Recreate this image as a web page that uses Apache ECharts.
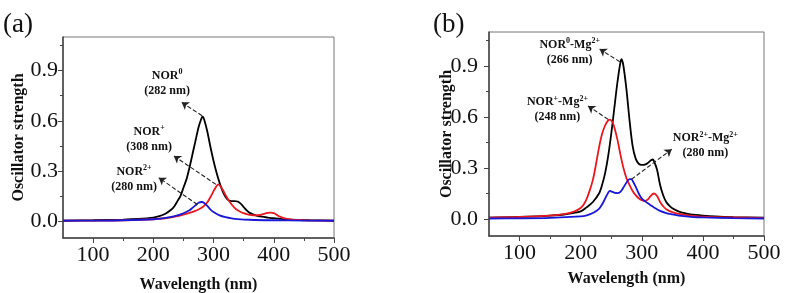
<!DOCTYPE html>
<html>
<head>
<meta charset="utf-8">
<script src="https://cdn.jsdelivr.net/npm/echarts@6/dist/echarts.min.js"></script>
<style>
  html, body { margin: 0; padding: 0; background: #fff; }
  #chart { width: 786px; height: 293px; }
</style>
</head>
<body>
<div id="chart"></div>
<script>
// panel (a) spectra, [wavelength nm, oscillator strength]
var aNor0 = [[50,0.004],[100,0.006],[150,0.010],[175,0.014],[200,0.022],[210,0.03],[220,0.045],[230,0.07],[235,0.09],[240,0.12],[245,0.15],[250,0.2],[255,0.25],[260,0.32],[265,0.4],[270,0.48],[275,0.56],[280,0.615],[282,0.625],[285,0.60],[290,0.53],[295,0.44],[300,0.36],[305,0.29],[310,0.23],[315,0.18],[320,0.145],[325,0.125],[330,0.12],[335,0.12],[340,0.118],[345,0.105],[350,0.085],[355,0.065],[360,0.05],[370,0.035],[380,0.027],[390,0.022],[400,0.018],[410,0.014],[420,0.011],[440,0.008],[460,0.006],[500,0.004]];
var aNor1 = [[50,0.003],[100,0.004],[150,0.006],[200,0.012],[220,0.018],[240,0.03],[250,0.04],[260,0.05],[270,0.062],[275,0.07],[280,0.08],[285,0.095],[290,0.115],[295,0.145],[300,0.18],[305,0.21],[308,0.22],[310,0.215],[315,0.19],[320,0.155],[325,0.125],[330,0.1],[335,0.08],[340,0.065],[345,0.055],[350,0.048],[355,0.042],[360,0.038],[370,0.035],[380,0.04],[390,0.05],[395,0.052],[400,0.048],[405,0.038],[410,0.028],[420,0.016],[430,0.01],[440,0.008],[460,0.005],[500,0.003]];
var aNor2 = [[50,0.003],[100,0.004],[150,0.006],[200,0.012],[220,0.02],[230,0.026],[240,0.035],[250,0.048],[260,0.066],[265,0.08],[270,0.095],[275,0.11],[280,0.115],[285,0.108],[290,0.09],[295,0.07],[300,0.055],[310,0.035],[320,0.024],[330,0.017],[340,0.013],[360,0.009],[400,0.006],[450,0.004],[500,0.003]];

// panel (b) spectra, Mg2+ complexes
var bNor0 = [[50,0.008],[100,0.012],[150,0.02],[175,0.028],[200,0.045],[210,0.07],[220,0.1],[230,0.15],[235,0.2],[240,0.27],[245,0.37],[250,0.5],[255,0.65],[260,0.8],[265,0.92],[267,0.94],[270,0.9],[275,0.76],[280,0.58],[285,0.43],[290,0.355],[295,0.325],[300,0.318],[305,0.32],[310,0.33],[315,0.345],[318,0.35],[320,0.34],[325,0.29],[330,0.2],[335,0.14],[340,0.1],[345,0.078],[350,0.063],[360,0.045],[370,0.034],[380,0.027],[400,0.02],[420,0.015],[450,0.011],[500,0.008]];
var bNor1 = [[50,0.008],[100,0.012],[150,0.02],[175,0.03],[190,0.045],[200,0.065],[205,0.085],[210,0.12],[215,0.17],[220,0.23],[225,0.32],[230,0.42],[235,0.5],[240,0.55],[245,0.58],[248,0.585],[252,0.57],[255,0.54],[260,0.47],[265,0.38],[270,0.3],[275,0.24],[280,0.2],[285,0.165],[290,0.14],[295,0.122],[300,0.11],[305,0.105],[310,0.115],[315,0.138],[320,0.15],[325,0.135],[330,0.1],[335,0.075],[340,0.058],[350,0.04],[360,0.03],[380,0.02],[400,0.014],[450,0.009],[500,0.006]];
var bNor2 = [[50,0.003],[100,0.004],[150,0.007],[200,0.016],[210,0.022],[220,0.035],[230,0.06],[235,0.085],[240,0.12],[245,0.155],[248,0.165],[250,0.163],[255,0.155],[260,0.152],[265,0.16],[270,0.185],[275,0.215],[280,0.235],[283,0.235],[285,0.225],[290,0.19],[295,0.15],[300,0.12],[305,0.105],[310,0.092],[315,0.08],[320,0.068],[330,0.048],[340,0.035],[350,0.027],[360,0.02],[380,0.013],[400,0.009],[450,0.005],[500,0.003]];

var xTicks = [100, 200, 300, 400, 500];
var xMinor = [150, 250, 350, 450];
var yTicks = [0, 0.3, 0.6, 0.9];
var yMinor = [0.15, 0.45, 0.75, 1.05];

var serif = 'Liberation Serif';
var axisColor = '#444';

function fmtY(v) { return v.toFixed(1); }

function axesFor(gi, labelSize, xGap, yGap, yMargin) {
  var nameStyle = { fontFamily: serif, fontWeight: 'bold', fontSize: 16, color: '#111' };
  var xs = [
    {
      type: 'value', gridIndex: gi, min: 50, max: 500, position: 'bottom',
      name: 'Wavelength (nm)', nameLocation: 'middle', nameGap: xGap, nameMoveOverlap: false,
      nameTextStyle: nameStyle,
      axisLine: { show: true, onZero: false, lineStyle: { color: axisColor, width: 1.5 } },
      axisTick: { show: true, inside: false, length: 5, customValues: xTicks, lineStyle: { color: axisColor } },
      axisLabel: { customValues: xTicks, margin: 6, fontFamily: serif, fontSize: labelSize, color: '#111' },
      splitLine: { show: false }
    },
    {
      type: 'value', gridIndex: gi, min: 50, max: 500, position: 'bottom',
      axisLine: { show: false, onZero: false },
      axisTick: { show: true, length: 3, customValues: xMinor, lineStyle: { color: axisColor } },
      axisLabel: { show: false },
      splitLine: { show: false }
    }
  ];
  var ys = [
    {
      type: 'value', gridIndex: gi, min: -0.1, max: 1.1, position: 'left',
      name: 'Oscillator strength', nameLocation: 'middle', nameGap: yGap, nameMoveOverlap: false,
      nameTextStyle: nameStyle,
      axisLine: { show: true, onZero: false, lineStyle: { color: axisColor, width: 1.5 } },
      axisTick: { show: true, inside: false, length: 5, customValues: yTicks, lineStyle: { color: axisColor } },
      axisLabel: { customValues: yTicks, formatter: fmtY, margin: yMargin, fontFamily: serif, fontSize: labelSize, color: '#111' },
      splitLine: { show: false }
    },
    {
      type: 'value', gridIndex: gi, min: -0.1, max: 1.1, position: 'left',
      axisLine: { show: false, onZero: false },
      axisTick: { show: true, length: 3, customValues: yMinor, lineStyle: { color: axisColor } },
      axisLabel: { show: false },
      splitLine: { show: false }
    }
  ];
  return { x: xs, y: ys };
}

var rich = {
  t: { fontFamily: serif, fontWeight: 'bold', fontSize: 12, color: '#111', lineHeight: 15 },
  s: { fontFamily: serif, fontWeight: 'bold', fontSize: 8, color: '#111', verticalAlign: 'top', lineHeight: 10, padding: [0, 0, 6, 0] }
};

function note(coord, text) {
  return { coord: coord, label: { formatter: text } };
}

function arrow(from, to) {
  return [{ coord: from }, { coord: to }];
}

var markLineBase = {
  silent: true, symbol: ['none', 'arrow'], symbolSize: 7,
  label: { show: false },
  lineStyle: { type: 'dashed', color: '#222', width: 1.1 },
  emphasis: { disabled: true }
};

var markPointBase = {
  silent: true, symbol: 'rect', symbolSize: 1,
  itemStyle: { color: 'rgba(0,0,0,0)' },
  label: { show: true, position: 'inside', align: 'center', rich: rich }
};

function line(data, color, xi, yi, ml, mp) {
  var s = {
    type: 'line', data: data, xAxisIndex: xi, yAxisIndex: yi,
    smooth: 0.3, showSymbol: false, silent: true,
    lineStyle: { color: color, width: 1.8 }, itemStyle: { color: color }
  };
  if (ml) s.markLine = Object.assign({}, markLineBase, { data: ml });
  if (mp) s.markPoint = Object.assign({}, markPointBase, { data: mp });
  return s;
}

var axA = axesFor(0, 22, 39, 36, 5);
var axB = axesFor(1, 22, 35, 34, 11);

var option = {
  animation: false,
  title: [
    { text: '(a)', left: 3, top: 11, padding: 0, textStyle: { fontFamily: serif, fontWeight: 'normal', fontSize: 27, color: '#111' } },
    { text: '(b)', left: 433, top: 11, padding: 0, textStyle: { fontFamily: serif, fontWeight: 'normal', fontSize: 27, color: '#111' } }
  ],
  grid: [
    { left: 63, right: 452, top: 37, bottom: 55, outerBoundsMode: 'none', show: true, borderColor: '#777', borderWidth: 1 },
    { left: 489, right: 22, top: 32, bottom: 57, outerBoundsMode: 'none', show: true, borderColor: '#777', borderWidth: 1 }
  ],
  xAxis: axA.x.concat(axB.x.map(function (a) { a.gridIndex = 1; return a; })),
  yAxis: axA.y.concat(axB.y.map(function (a) { a.gridIndex = 1; return a; })),
  series: [
    line(aNor0, '#000000', 0, 0,
      [arrow([281, 0.63], [247, 0.71]), arrow([304, 0.22], [234, 0.39]), arrow([273, 0.10], [209, 0.26])],
      [note([223, 0.825], '{t|NOR}{s|0}\n{t|(282 nm)}'),
       note([193, 0.49], '{t|NOR}{s|+}\n{t|(308 nm)}'),
       note([168, 0.25], '{t|NOR}{s|2+}\n{t|(280 nm)}')]),
    line(aNor1, '#e8181e', 0, 0),
    line(aNor2, '#1818d8', 0, 0),
    line(bNor0, '#000000', 2, 2,
      [arrow([264, 0.925], [231, 1.0]), arrow([245, 0.586], [212, 0.665]), arrow([283, 0.233], [349, 0.41])],
      [note([182, 0.98], '{t|NOR}{s|0}{t|-Mg}{s|2+}\n{t|(266 nm)}'),
       note([162, 0.644], '{t|NOR}{s|+}{t|-Mg}{s|2+}\n{t|(248 nm)}'),
       note([404, 0.43], '{t|NOR}{s|2+}{t|-Mg}{s|2+}\n{t|(280 nm)}')]),
    line(bNor1, '#e8181e', 2, 2),
    line(bNor2, '#1818d8', 2, 2)
  ]
};

var chart = echarts.init(document.getElementById('chart'));
chart.setOption(option);
</script>
</body>
</html>
